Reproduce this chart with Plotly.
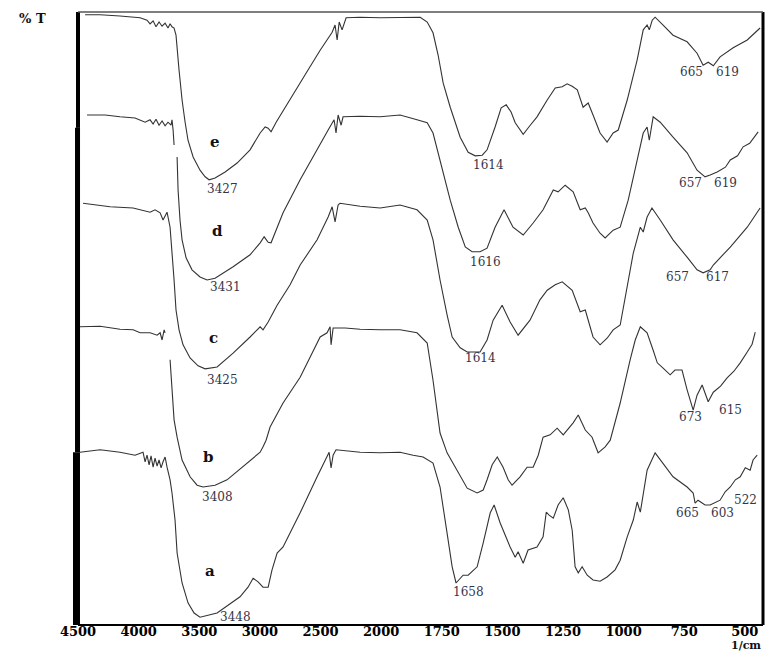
import plotly.graph_objects as go

# ---------------- data (wavenumber in 1/cm, %T in arbitrary offset units) ----------------
e_wn = [4442, 4318, 4154, 3988, 3931, 3906, 3881, 3857, 3832, 3807, 3782, 3758, 3741, 3725, 3708,
        3692, 3667, 3642, 3617, 3593, 3551, 3494, 3452, 3419, 3370, 3287, 3188, 3081, 2998, 2957,
        2932, 2908, 2866, 2751, 2627, 2503, 2404, 2380, 2363, 2346, 2322, 2289, 2173, 2008,
        1922, 1839, 1810, 1786, 1765, 1744, 1715, 1674, 1641, 1612, 1583, 1563, 1530, 1505, 1484,
        1464, 1447, 1414, 1385, 1357, 1315, 1282, 1253, 1233, 1212, 1191, 1167, 1146, 1126, 1097,
        1068, 1043, 1022, 985, 944, 919, 903, 894, 882, 870, 837, 796, 738, 697, 672, 651, 630,
        602, 548, 490, 437]
e_t = [101.7, 101.7, 101.5, 101.2, 100.8, 100.2, 100.7, 99.7, 100.5, 99.8, 100.3, 99.5, 100.2, 99.7, 99.5,
       98.3, 92.5, 87.5, 83.8, 80.8, 78.0, 75.8, 74.7, 74.2, 74.5, 75.5, 77.0, 79.2, 82.0, 83.0,
       82.8, 82.2, 83.8, 87.5, 91.7, 95.8, 98.8, 100.0, 97.5, 100.5, 99.2, 101.2, 101.3, 101.2,
       101.3, 101.3, 100.5, 98.7, 95.0, 90.3, 86.3, 81.3, 78.8, 78.2, 78.3, 79.2, 83.0, 86.2, 86.7,
       85.5, 83.7, 81.8, 83.3, 84.7, 87.5, 89.5, 89.7, 90.2, 89.8, 89.2, 86.3, 87.0, 85.0, 82.0,
       80.5, 82.0, 82.5, 87.5, 94.2, 99.2, 100.0, 99.2, 100.8, 101.3, 100.0, 98.3, 97.2, 95.3, 93.3, 93.8, 93.2,
       94.7, 96.2, 97.5, 99.5]

d_wn = [4426, 4277, 4154, 4030, 3947, 3906, 3881, 3857, 3832, 3807, 3782, 3758, 3733, 3725, 3716, 3708,
        None,
        3683, 3675, 3659, 3642, 3609, 3560, 3494, 3436, 3370, 3221, 3081, 2998, 2965, 2932, 2908,
        2809, 2668, 2503, 2437, 2388, 2372, 2355, 2330, 2314, 2173, 2008,
        1922, 1852, 1810, 1786, 1757, 1715, 1682, 1653, 1625, 1592, 1563, 1530, 1493, 1456, 1414,
        1373, 1332, 1290, 1270, 1241, 1208, 1179, 1158, 1146, 1126, 1097, 1076, 1043, 1014, 981,
        944, 919, 903, 894, 878, 849, 796, 738, 697, 664, 643, 614, 580, 560, 530, 507, 480, 445]
d_t = [85.0, 85.0, 84.7, 84.5, 83.8, 84.2, 83.5, 84.3, 83.3, 84.0, 83.2, 83.8, 83.3, 84.2, 82.5, 80.0,
       None,
       78.0, 72.5, 67.5, 64.2, 61.2, 59.2, 58.0, 57.5, 57.8, 59.7, 61.7, 63.7, 64.7, 63.8, 63.7,
       68.7, 74.2, 80.3, 82.5, 84.2, 82.0, 85.0, 83.3, 84.7, 84.8, 84.7,
       85.0, 84.2, 83.7, 82.0, 77.5, 70.8, 66.3, 63.0, 62.2, 62.2, 62.8, 66.3, 69.2, 66.3, 65.0,
       67.0, 69.2, 72.5, 72.2, 73.3, 72.2, 69.2, 69.5, 68.7, 67.0, 65.3, 64.5, 65.8, 66.3, 70.8,
       77.5, 82.0, 83.0, 80.8, 84.7, 83.8, 81.3, 78.7, 75.8, 74.7, 75.0, 75.5, 76.3, 77.5, 78.2, 79.7, 80.3, 82.2]

c_wn = [4459, 4236, 4046, 3906, 3865, 3823, 3799, 3766,
        3741, 3725, 3708, 3692, 3667, 3634, 3576, 3510, 3452, 3353, 3221, 3081, 2998, 2974, 2932,
        2858, 2751, 2668, 2528, 2437, 2404, 2380, 2355, 2339, 2173, 2008,
        1922, 1852, 1810, 1786, 1757, 1728, 1707, 1674, 1645, 1592, 1563, 1538, 1501, 1468, 1435,
        1386, 1345, 1315, 1282, 1253, 1212, 1179, 1158, 1126, 1097, 1068, 1043, 1014, 985, 960,
        931, 919, 903, 883, 849, 796, 738, 697, 672, 643, 630, 560, 490, 437]
c_t = [70.3, 69.7, 69.5, 68.8, 69.2, 68.7, 67.5, 68.8,
       66.3, 62.5, 57.5, 52.5, 49.2, 46.7, 44.5, 43.2, 42.7, 43.0, 45.3, 48.0, 49.7, 49.2, 50.5,
       53.3, 56.7, 60.0, 64.2, 68.0, 69.7, 67.2, 70.0, 70.3, 69.8, 69.5,
       70.0, 69.2, 67.5, 64.2, 57.5, 51.7, 48.0, 46.2, 45.5, 45.5, 47.5, 50.8, 53.3, 50.5, 48.3,
       50.8, 54.2, 55.8, 56.7, 57.2, 55.8, 52.2, 52.5, 48.0, 46.7, 47.8, 49.2, 50.0, 56.7, 62.0,
       66.3, 65.5, 68.0, 69.5, 67.5, 64.2, 61.3, 59.2, 58.7, 59.2, 60.0, 63.0, 66.3, 69.5]

b_wn = [4484, 4318, 4154, 4046, 3988, 3906, 3848, 3823, 3807, 3790, 3782,
        None,
        3741, 3725, 3708, 3683, 3642, 3576, 3518, 3469, 3370, 3271, 3106, 2998, 2974, 2949, 2916,
        2809, 2668, 2561, 2503, 2446, 2421, 2413, 2396, 2297, 2173, 2008,
        1922, 1852, 1810, 1786, 1757, 1728, 1687, 1645, 1604, 1579, 1563, 1542, 1521, 1497, 1476,
        1460, 1427, 1398, 1373, 1352, 1332, 1303, 1274, 1249, 1208, 1187, 1158, 1130, 1105, 1076,
        1055, 1014, 973, 952, 931, 903, 878, 861, 837, 808, 788, 759, 738, 713, 697, 676, 651, 630,
        600, 573, 545, 519, 490, 470, 457]
b_t = [49.7, 49.8, 49.3, 49.2, 48.7, 48.7, 48.3, 48.7, 47.5, 49.2, 48.7,
       None,
       44.2, 39.2, 34.2, 31.3, 27.5, 24.7, 23.3, 23.0, 23.3, 24.2, 27.0, 28.8, 29.7, 30.8, 33.0,
       37.0, 41.3, 45.8, 48.0, 48.7, 49.7, 46.7, 49.5, 49.5, 49.3, 49.2,
       49.2, 48.7, 47.0, 40.8, 32.0, 28.7, 25.8, 22.8, 22.0, 22.5, 24.2, 26.7, 28.0, 26.3, 24.2,
       23.3, 24.7, 26.3, 26.3, 28.3, 31.3, 31.7, 32.8, 31.7, 33.7, 35.0, 32.5, 31.3, 28.7, 29.7,
       30.8, 37.0, 44.2, 47.5, 49.7, 48.7, 45.8, 43.7, 42.8, 41.7, 42.5, 42.5, 39.2, 35.8, 38.3, 40.0, 37.2, 38.8,
       39.8, 41.2, 42.3, 43.7, 45.5, 46.8, 48.8]

a_wn = [4484, 4318, 4154, 4030, 3964, 3947, 3931, 3914, 3898, 3881, 3865, 3848, 3832, 3815, 3799,
        3782, 3766, 3741, 3725, 3700, 3683, 3642, 3593, 3543, 3494, 3353, 3164, 3098, 3056, 3015,
        2974, 2932, 2900, 2858, 2809, 2668, 2528, 2462, 2429, 2413, 2396, 2372, 2173, 2008,
        1922, 1868, 1827, 1786, 1757, 1728, 1707, 1691, 1674, 1662, 1641, 1604, 1579, 1550, 1534,
        1509, 1468, 1447, 1435, 1414, 1394, 1357, 1332, 1319, 1307, 1290, 1270, 1249, 1228, 1212,
        1200, 1187, 1171, 1150, 1126, 1097, 1068, 1035, 1014, 985, 960, 944, 931, 903, 870, 837,
        796, 738, 713, 705, 693, 664, 643, 602, 581, 560, 539, 519, 498, 478, 466, 449]
a_t = [28.8, 29.2, 28.8, 28.3, 28.8, 27.2, 28.3, 26.7, 28.2, 26.3, 27.8, 26.5, 27.5, 26.2, 27.2,
       28.0, 26.3, 24.2, 22.0, 17.5, 12.0, 7.0, 3.7, 2.0, 1.3, 2.0, 4.7, 6.3, 7.8, 7.2,
       6.3, 6.3, 9.2, 12.0, 13.0, 18.7, 24.7, 27.5, 28.8, 26.2, 28.3, 29.2, 28.8, 28.7,
       28.8, 28.3, 28.0, 27.0, 23.0, 15.3, 9.7, 7.0, 7.8, 8.3, 8.3, 9.7, 13.7, 18.7, 20.0,
       17.0, 13.0, 11.3, 12.2, 10.3, 12.5, 13.0, 14.7, 18.8, 18.3, 17.8, 20.0, 21.2, 19.2, 15.8,
       9.7, 8.7, 9.7, 8.3, 7.5, 7.3, 8.0, 9.2, 10.8, 14.7, 17.5, 20.5, 18.8, 25.8, 28.7, 27.0,
       24.7, 23.0, 22.0, 20.3, 20.8, 20.0, 20.0, 20.8, 22.2, 23.0, 24.2, 24.7, 26.2, 25.8, 27.5, 28.3]

series_names = ["e", "d", "c", "b", "a"]
series_wn = [e_wn, d_wn, c_wn, b_wn, a_wn]
series_t = [e_t, d_t, c_t, b_t, a_t]

# sample letters (wavenumber, %T)
letter_text = ["e", "d", "c", "b", "a"]
letter_wn = [3370, 3353, 3386, 3428, 3411]
letter_t = [80.5, 65.7, 47.8, 28.0, 9.0]

# peak labels
peak_text = ["3427", "3431", "3425", "3408", "3448",
             "1614", "1616", "1614", "1658",
             "665", "619", "657", "619", "657", "617", "673", "615", "665", "603", "522"]
peak_wn = [3312, 3287, 3312, 3353, 3205,
           1559, 1571, 1592, 1641,
           721, 573, 725, 581, 779, 614, 725, 560, 738, 593, 498]
peak_t = [72.7, 56.3, 40.8, 21.3, 1.3,
          76.7, 60.5, 44.5, 5.5,
          92.2, 92.2, 73.7, 73.7, 58.0, 58.0, 34.7, 35.8, 18.7, 18.7, 20.8]

tick_wn = [4500, 4000, 3500, 3000, 2500, 2000, 1750, 1500, 1250, 1000, 750, 500]
tick_labels = ["4500", "4000", "3500", "3000", "2500", "2000", "1750", "1500", "1250", "1000", "750", "500"]


# FTIR instrument x-scale: 500 1/cm per division above 2000, 250 1/cm per division below
def to_u(w):
    if w is None:
        return None
    return (4500 - w) / 500.0 if w >= 2000 else 5 + (2000 - w) / 250.0


fig = go.Figure()
for name, wn, t in zip(series_names, series_wn, series_t):
    fig.add_trace(go.Scatter(x=[to_u(w) for w in wn], y=t, mode="lines", name=name,
                             line=dict(color="#333333", width=1.1), connectgaps=False,
                             hoverinfo="skip"))

annotations = []
for txt, w, t in zip(letter_text, letter_wn, letter_t):
    annotations.append(dict(x=to_u(w), y=t, text=txt, showarrow=False, xanchor="center", yanchor="middle",
                            font=dict(family="DejaVu Serif", size=15, color="#111", weight="bold")))
for txt, w, t in zip(peak_text, peak_wn, peak_t):
    annotations.append(dict(x=to_u(w), y=t, text=txt, showarrow=False, xanchor="center", yanchor="middle",
                            font=dict(family="DejaVu Serif", size=12, color="#35354a")))
annotations.append(dict(xref="paper", yref="paper", x=-0.066, y=0.99, text="% T", showarrow=False,
                        xanchor="center", yanchor="middle",
                        font=dict(family="DejaVu Serif", size=13, color="#111", weight="bold")))
annotations.append(dict(xref="paper", yref="paper", x=0.975, y=-0.0335, text="1/cm", showarrow=False,
                        xanchor="center", yanchor="middle", borderpad=0,
                        font=dict(family="DejaVu Serif", size=11, color="#111", weight="bold")))

shapes = [
    # left frame (pieced, thicker toward the bottom as in the scan)
    dict(type="line", xref="paper", yref="paper", x0=0, x1=0, y0=0.811, y1=1, line=dict(color="black", width=4)),
    dict(type="line", xref="paper", yref="paper", x0=-0.0007, x1=-0.0007, y0=0.282, y1=0.811,
         line=dict(color="black", width=5)),
    dict(type="line", xref="paper", yref="paper", x0=-0.0022, x1=-0.0022, y0=0, y1=0.282,
         line=dict(color="black", width=7)),
    dict(type="line", xref="paper", yref="paper", x0=1, x1=1, y0=0, y1=1, line=dict(color="black", width=3)),
    dict(type="line", xref="paper", yref="paper", x0=0, x1=1, y0=1, y1=1, line=dict(color="#555", width=1.5)),
    dict(type="line", xref="paper", yref="paper", x0=0, x1=1, y0=0, y1=0, line=dict(color="black", width=2)),
]

fig.update_layout(
    width=767, height=652,
    margin=dict(l=78, r=4, t=12, b=27),
    plot_bgcolor="white", paper_bgcolor="white",
    showlegend=False,
    annotations=annotations,
    shapes=shapes,
    xaxis=dict(range=[-0.001, 11.30], tickvals=[to_u(w) for w in tick_wn], ticktext=tick_labels,
               showgrid=False, zeroline=False, showline=False, ticks="", ticklabelstandoff=-3,
               tickfont=dict(family="DejaVu Serif", size=13, color="black", weight="bold")),
    yaxis=dict(range=[0, 102.17], visible=False, showgrid=False, zeroline=False),
)

fig.write_html("out.html", config={"displayModeBar": False},
               post_script="document.body.style.margin='0';document.body.style.overflow='hidden';")
